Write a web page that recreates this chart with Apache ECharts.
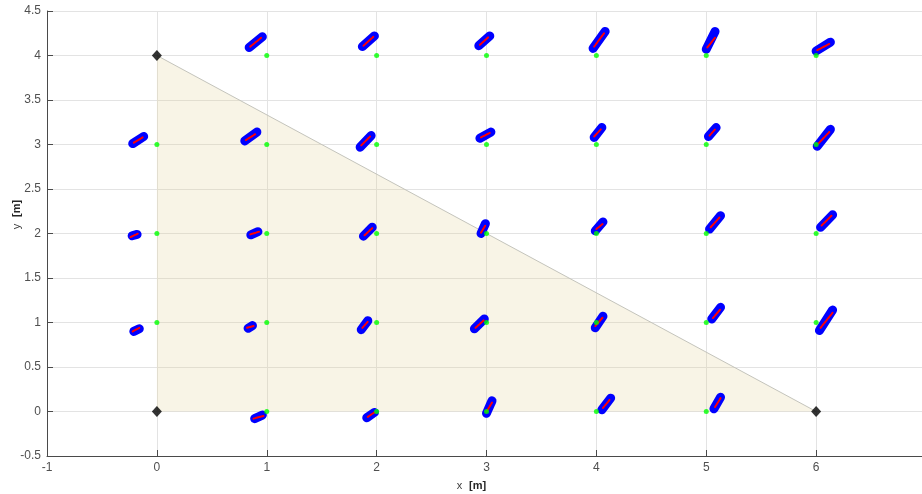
<!DOCTYPE html>
<html>
<head>
<meta charset="utf-8">
<title>Node displacement</title>
<script src="https://cdn.jsdelivr.net/npm/echarts@6/dist/echarts.min.js"></script>
<style>
  html, body { margin: 0; padding: 0; background: #ffffff; }
  #chart { width: 922px; height: 494px; }
</style>
</head>
<body>
<div id="chart"></div>
<script>
// Region of interest (triangle hypotenuse; the area is filled down to y = 0)
const regionEdge = [[0, 4], [6, 0]];

// Triangle corner anchors
const anchors = [[0, 0], [0, 4], [6, 0]];

// Nominal grid nodes
const nodes = [
  [1, 4], [2, 4], [3, 4], [4, 4], [5, 4], [6, 4],
  [0, 3], [1, 3], [2, 3], [3, 3], [4, 3], [5, 3], [6, 3],
  [0, 2], [1, 2], [2, 2], [3, 2], [4, 2], [5, 2], [6, 2],
  [0, 1], [1, 1], [2, 1], [3, 1], [4, 1], [5, 1], [6, 1],
  [1, 0], [2, 0], [3, 0], [4, 0], [5, 0]
];

// Measured point clouds: extent of each cloud (start / end)
const cloudFrom = [
  [0.84, 4.09], [1.87, 4.10], [2.93, 4.11], [3.97, 4.08], [5.00, 4.07], [6.00, 4.05],
  [-0.22, 3.01], [0.80, 3.04], [1.85, 2.97], [2.94, 3.07], [3.98, 3.08], [5.02, 3.09], [6.01, 2.98],
  [-0.225, 1.975], [0.855, 1.985], [1.88, 1.97], [2.95, 2.00], [3.99, 2.03], [5.03, 2.05], [6.04, 2.07],
  [-0.21, 0.90], [0.83, 0.935], [1.86, 0.92], [2.89, 0.93], [3.99, 0.94], [5.05, 1.04], [6.03, 0.91],
  [0.89, -0.08], [1.91, -0.07], [3.00, -0.02], [4.05, 0.02], [5.07, 0.03]
];
const cloudTo = [
  [0.96, 4.21], [1.98, 4.22], [3.03, 4.22], [4.08, 4.27], [5.08, 4.27], [6.13, 4.15],
  [-0.12, 3.09], [0.91, 3.14], [1.95, 3.10], [3.04, 3.14], [4.05, 3.19], [5.09, 3.19], [6.13, 3.17],
  [-0.18, 1.99], [0.92, 2.02], [1.96, 2.07], [2.99, 2.11], [4.06, 2.13], [5.13, 2.20], [6.15, 2.21],
  [-0.16, 0.93], [0.87, 0.965], [1.92, 1.02], [2.98, 1.04], [4.06, 1.07], [5.13, 1.17], [6.15, 1.14],
  [0.96, -0.04], [1.98, -0.01], [3.05, 0.12], [4.13, 0.15], [5.13, 0.16]
];

// Fitted trend through each cloud (start / end)
const fitFrom = [
  [0.85, 4.10], [1.88, 4.11], [2.94, 4.12], [3.98, 4.10], [5.01, 4.09], [6.01, 4.06],
  [-0.21, 3.02], [0.81, 3.05], [1.86, 2.99], [2.95, 3.08], [3.98, 3.09], [5.03, 3.10], [6.02, 3.01],
  [-0.24, 1.96], [0.85, 1.99], [1.89, 1.98], [2.95, 2.01], [4.00, 2.05], [5.04, 2.07], [6.05, 2.09],
  [-0.22, 0.90], [0.82, 0.94], [1.87, 0.94], [2.90, 0.94], [3.99, 0.96], [5.06, 1.05], [6.04, 0.94],
  [0.88, -0.08], [1.92, -0.06], [3.00, 0.00], [4.06, 0.04], [5.08, 0.05]
];
const fitTo = [
  [0.95, 4.20], [1.97, 4.21], [3.02, 4.21], [4.07, 4.25], [5.08, 4.20], [6.12, 4.13],
  [-0.13, 3.08], [0.90, 3.12], [1.94, 3.09], [3.03, 3.13], [4.04, 3.17], [5.08, 3.17], [6.12, 3.14],
  [-0.17, 2.00], [0.93, 2.02], [1.96, 2.06], [2.99, 2.09], [4.06, 2.11], [5.12, 2.18], [6.14, 2.20],
  [-0.16, 0.94], [0.88, 0.96], [1.92, 1.01], [2.98, 1.03], [4.06, 1.06], [5.13, 1.15], [6.15, 1.11],
  [0.97, -0.05], [1.98, -0.01], [3.05, 0.10], [4.12, 0.13], [5.13, 0.15]
];

// Axis setup
const xRange = { min: -1, max: 7, step: 1 };
const yRange = { min: -0.5, max: 4.5, step: 0.5 };

const cloudData = cloudFrom.map((p, i) => [
  p[0], p[1], cloudTo[i][0], cloudTo[i][1],
  fitFrom[i][0], fitFrom[i][1], fitTo[i][0], fitTo[i][1]
]);

const axisText = { color: '#505050', fontFamily: 'Liberation Sans, Arial, sans-serif', fontSize: 12 };
const nameRich = {
  n: { fontSize: 11, color: '#404040', fontFamily: 'Liberation Sans, Arial, sans-serif' },
  u: { fontSize: 11, color: '#262626', fontWeight: 'bold', fontFamily: 'Liberation Sans, Arial, sans-serif' }
};

const chart = echarts.init(document.getElementById('chart'), null, { renderer: 'canvas' });

chart.setOption({
  animation: false,
  backgroundColor: '#ffffff',
  grid: { left: 47, right: -4, top: 11, bottom: 38, containLabel: false, outerBoundsMode: 'none' },
  xAxis: {
    type: 'value',
    min: xRange.min, max: xRange.max, interval: xRange.step,
    name: '{n|x}  {u|[m]}',
    nameLocation: 'middle',
    nameGap: 24,
    nameTextStyle: { padding: [0, 30, 0, 0], rich: nameRich },
    axisLine: { onZero: false, lineStyle: { color: '#4a4a4a', width: 1 } },
    axisTick: { inside: true, length: 6, lineStyle: { color: '#4a4a4a' } },
    axisLabel: Object.assign({ margin: 6 }, axisText),
    splitLine: { show: true, lineStyle: { color: '#e3e3e3', width: 1 } }
  },
  yAxis: {
    type: 'value',
    min: yRange.min, max: yRange.max, interval: yRange.step,
    name: '{n|y}  {u|[m]}',
    nameLocation: 'middle',
    nameGap: 24,
    nameMoveOverlap: false,
    nameRotate: 90,
    nameTextStyle: { padding: [0, 0, 0, 38], rich: nameRich },
    axisLine: { show: true, onZero: false, lineStyle: { color: '#4a4a4a', width: 1 } },
    axisTick: { show: true, inside: true, length: 6, lineStyle: { color: '#4a4a4a' } },
    axisLabel: Object.assign({ margin: 6 }, axisText),
    splitLine: { show: true, lineStyle: { color: '#e3e3e3', width: 1 } }
  },
  series: [
    {
      name: 'region',
      type: 'line',
      data: regionEdge,
      symbol: 'none',
      lineStyle: { color: '#c4c4bc', width: 1 },
      areaStyle: { color: 'rgba(222,205,138,0.3)', origin: 0 },
      z: 1
    },
    {
      name: 'clouds',
      type: 'custom',
      data: cloudData,
      z: 3,
      renderItem: function (params, api) {
        const a = api.coord([api.value(0), api.value(1)]);
        const b = api.coord([api.value(2), api.value(3)]);
        const c = api.coord([api.value(4), api.value(5)]);
        const d = api.coord([api.value(6), api.value(7)]);
        return {
          type: 'group',
          children: [
            {
              type: 'line',
              shape: { x1: a[0], y1: a[1], x2: b[0], y2: b[1] },
              style: { stroke: '#0000ff', lineWidth: 9, lineCap: 'round' }
            },
            {
              type: 'line',
              shape: { x1: c[0], y1: c[1], x2: d[0], y2: d[1] },
              style: { stroke: '#ff0000', lineWidth: 2, lineCap: 'round', lineDash: [2, 1] }
            }
          ]
        };
      }
    },
    {
      name: 'nodes',
      type: 'scatter',
      data: nodes,
      symbol: 'circle',
      symbolSize: 5,
      itemStyle: { color: '#00ff00' },
      z: 4
    },
    {
      name: 'anchors',
      type: 'scatter',
      data: anchors,
      symbol: 'diamond',
      symbolSize: [10, 11],
      itemStyle: { color: '#000000' },
      z: 5
    }
  ]
});
</script>
</body>
</html>
